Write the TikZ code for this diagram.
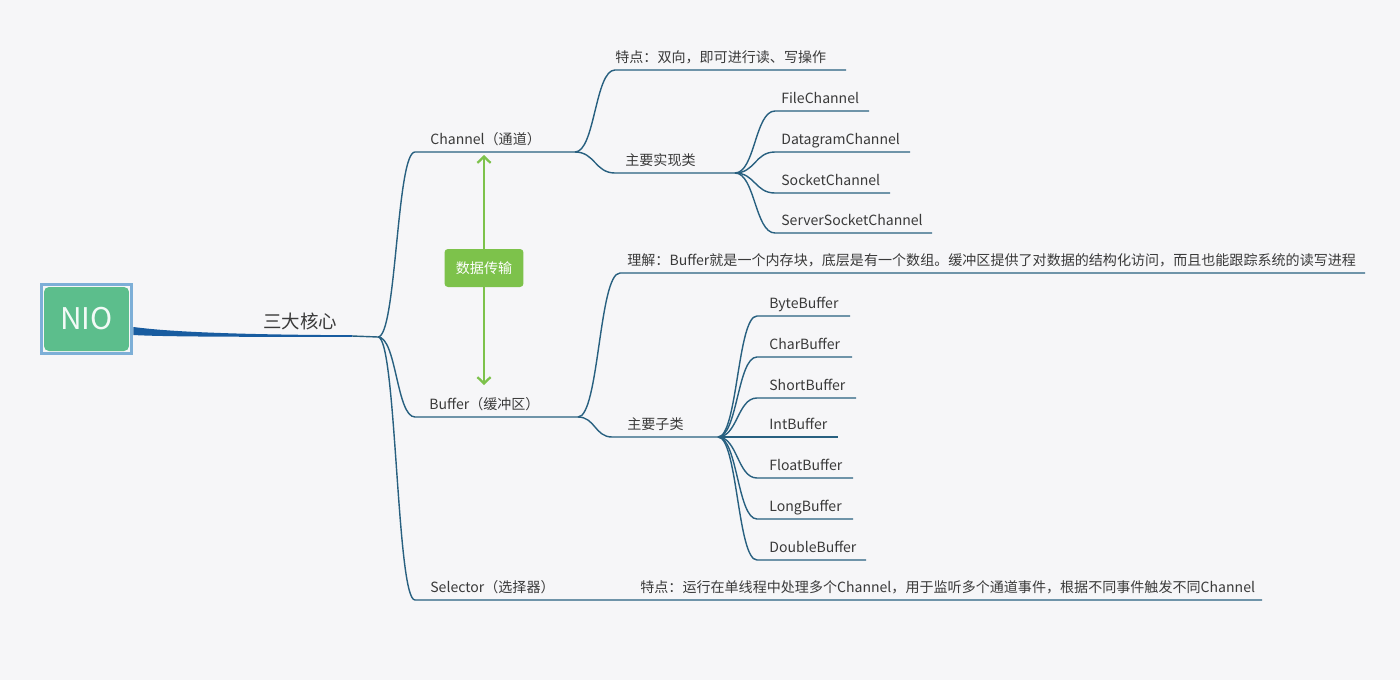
\documentclass[tikz,border=0pt]{standalone}
\usepackage{fontspec}
\setmainfont{Noto Sans CJK SC}
\usetikzlibrary{arrows.meta, positioning, fit, calc}
\definecolor{bgcol}{RGB}{246,246,248}
\definecolor{lincol}{RGB}{40,96,128}
\definecolor{trunkcol}{RGB}{24,92,160}
\definecolor{niogreen}{RGB}{92,190,140}
\definecolor{nioedge}{RGB}{125,175,215}
\definecolor{datagreen}{RGB}{125,194,75}
\definecolor{txtcol}{RGB}{58,58,58}
\tikzset{
  niobox/.style={
    fill=niogreen, rounded corners=2.8pt, minimum width=1.7cm,
    minimum height=1.28cm, text=white!92!niogreen, font=\fontsize{17}{20}\selectfont
  },
  nioring/.style={
    draw=nioedge, line width=1.7pt, inner sep=1.4pt
  },
  corelbl/.style={
    text=txtcol, font=\fontsize{10.5}{12}\selectfont, inner sep=0pt
  },
  lbl/.style={
    anchor=base west, text=txtcol, font=\fontsize{8}{10}\selectfont, inner sep=0pt
  },
  branch/.style={draw=lincol, line width=0.8pt},
  mmcurve/.style={
    to path={let \p1=(\tikztostart), \p2=(\tikztotarget), \n1={0.5*\x1+0.5*\x2} in
      .. controls (\n1,\y1) and (\n1,\y2) .. (\tikztotarget) \tikztonodes}
  },
  databox/.style={
    fill=datagreen, rounded corners=2pt, minimum width=1.58cm, minimum height=0.76cm,
    text=white, font=\fontsize{8}{10}\selectfont
  },
  dataarrow/.style={
    -{Straight Barb[length=3.6pt, width=7.5pt, line width=1.3pt]}, draw=datagreen, line width=1.4pt
  },
}
\begin{document}
\begin{tikzpicture}[x=0.02cm, y=-0.02cm]
  \fill[bgcol] (0,0) rectangle (1400,680);
  \useasboundingbox (0,0) rectangle (1400,680);

  % root and trunk
  \node[niobox] (nio) at (86.5,319) {NIO};
  \node[nioring, fit=(nio)] (ring) {};
  \coordinate (core) at (378,337);
  \coordinate (trunkend) at (352,336);
  \fill[trunkcol] ($(ring.east)+(0,8)$) .. controls (150,329) and (190,334.5) .. ($(trunkend)+(0,-0.8)$)
    -- ($(trunkend)+(0,0.8)$) .. controls (220,337) and (160,336.5) .. ($(ring.east)+(0,16)$) -- cycle;
  \draw[branch] (trunkend) -- (core);
  \node[corelbl] (three) at (300,321) {三大核心};

  % three main branches
  \coordinate (chanl) at (415,152);
  \coordinate (chanj) at (575,152);
  \coordinate (bufl) at (415,417);
  \coordinate (bufj) at (578,417);
  \coordinate (sell) at (415,600);
  \coordinate (selr) at (1262,600);
  \draw[branch] (core) to[mmcurve] (chanl) -- (chanj);
  \draw[branch] (core) to[mmcurve] (bufl) -- (bufj);
  \draw[branch] (core) to[mmcurve] (sell) -- (selr);
  \node[lbl] (chan) at (430,144) {Channel（通道）};
  \node[lbl] (buf) at (429,409) {Buffer（缓冲区）};
  \node[lbl] (sel) at (430,592) {Selector（选择器）};
  \node[lbl] (selnote) at (640,592) {特点：运行在单线程中处理多个Channel，用于监听多个通道事件，根据不同事件触发不同Channel};

  % Channel
  \coordinate (chfl) at (615,70);
  \coordinate (chfr) at (846,70);
  \coordinate (impll) at (615,173);
  \coordinate (implj) at (735,173);
  \draw[branch] (chanj) to[mmcurve] (chfl) -- (chfr);
  \draw[branch] (chanj) to[mmcurve] (impll) -- (implj);
  \node[lbl] (chfeat) at (615,62) {特点：双向，即可进行读、写操作};
  \node[lbl] (impl) at (625,165) {主要实现类};
  \foreach \nm/\yy/\xe [count=\i] in {FileChannel/111/869, DatagramChannel/152/910,
      SocketChannel/193/890, ServerSocketChannel/233/932}{
    \coordinate (cls\i) at (775,\yy);
    \coordinate (cle\i) at (\xe,\yy);
    \draw[branch] (implj) to[mmcurve] (cls\i) -- (cle\i);
    \node[lbl] (cln\i) at (781,\yy-8) {\nm};
  }

  % Buffer
  \coordinate (bfml) at (620,273);
  \coordinate (bfmr) at (1365,273);
  \coordinate (subl) at (612,437);
  \coordinate (subj) at (718,437);
  \draw[branch] (bufj) to[mmcurve] (bfml) -- (bfmr);
  \draw[branch] (bufj) to[mmcurve] (subl) -- (subj);
  \node[lbl] (bfmean) at (627,265) {理解：Buffer就是一个内存块，底层是有一个数组。缓冲区提供了对数据的结构化访问，而且也能跟踪系统的读写进程};
  \node[lbl] (sub) at (627,429) {主要子类};
  \foreach \nm/\yy/\xe [count=\i] in {ByteBuffer/316/850, CharBuffer/357/852, ShortBuffer/398/856,
      IntBuffer/437/838, FloatBuffer/478/853, LongBuffer/519/853, DoubleBuffer/560/866}{
    \coordinate (bls\i) at (757,\yy);
    \coordinate (ble\i) at (\xe,\yy);
    \draw[branch] (subj) to[mmcurve] (bls\i) -- (ble\i);
    \node[lbl] (bln\i) at (769,\yy-8) {\nm};
  }

  % data transfer between Channel and Buffer
  \node[databox] (xfer) at (484,268) {数据传输};
  \coordinate (xferup) at (484,155);
  \coordinate (xferdn) at (484,385);
  \draw[dataarrow] (xfer.north) -- (xferup);
  \draw[dataarrow] (xfer.south) -- (xferdn);
\end{tikzpicture}
\end{document}
